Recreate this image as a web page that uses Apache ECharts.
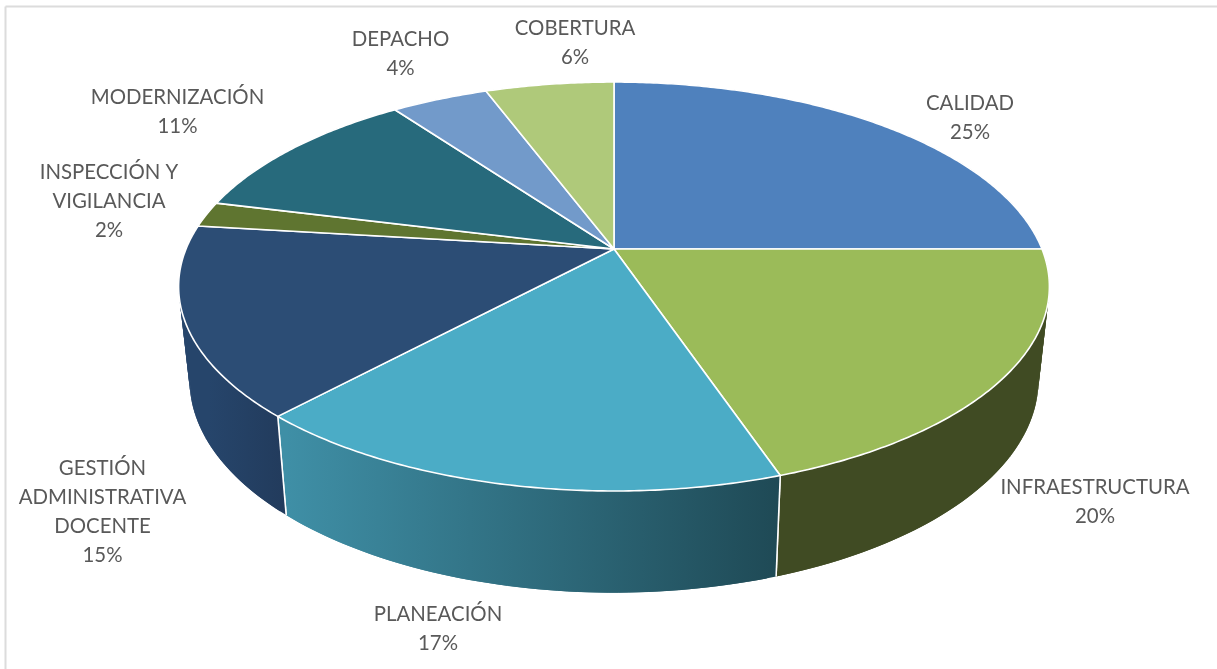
<!DOCTYPE html>
<html>
<head>
<meta charset="utf-8">
<title>Pie 3D</title>
<style>
  html, body { margin: 0; padding: 0; background: #fff; }
  #chart { width: 1217px; height: 669px; }
</style>
<script src="https://cdn.jsdelivr.net/npm/echarts@6/dist/echarts.min.js"></script>
</head>
<body>
<div id="chart"></div>
<script>
var categories = ['CALIDAD', 'INFRAESTRUCTURA', 'PLANEACIÓN', 'GESTIÓN\nADMINISTRATIVA\nDOCENTE',
  'INSPECCIÓN Y\nVIGILANCIA', 'MODERNIZACIÓN', 'DEPACHO', 'COBERTURA'];
// percentages, the labels round them
var values = [25, 19.8, 17.1, 15, 2, 11.1, 4.3, 5.7];

var topColors = ['#4f81bd', '#9bbb59', '#4bacc6', '#2c4d75', '#5f7530', '#276a7c', '#729aca', '#afc97a'];
// left and right colour of the side wall
var wallColors = [
  ['#3b6190', '#3b6190'], ['#404b23', '#404b23'], ['#3f8fa6', '#1f4a56'], ['#26456b', '#223b5c'],
  ['#475824', '#475824'], ['#1d505d', '#1d505d'], ['#567599', '#567599'], ['#84985c', '#84985c']
];
var labelCenters = [[970, 118], [1095, 502], [438, 629], [102.5, 512], [109, 201], [177.5, 112], [400.5, 54], [575, 43]];

var total = values.reduce(function (a, b) { return a + b; }, 0);

// perspective disc: apex on screen, half axes and tilt
var cx = 614, cy = 249, A = 428, B = 197.6, K = 0.1834;
// lower rim relative to the upper one
var depth = 92, scaleX = 0.975, scaleY = 1.04;

function upper(t) {
  var u = Math.sin(t), v = Math.cos(t), w = 1 + K * v;
  return [cx + A * u / w, cy - B * v / w];
}
function lower(t) {
  var p = upper(t);
  return [cx + scaleX * (p[0] - cx), cy + depth + scaleY * (p[1] - cy)];
}
function sliceAngles(i) {
  var before = values.slice(0, i).reduce(function (a, b) { return a + b; }, 0);
  return [before / total * Math.PI * 2, (before + values[i]) / total * Math.PI * 2];
}

function renderWall(params, api) {
  var i = params.dataIndex;
  var a = sliceAngles(i);
  var steps = Math.max(2, Math.ceil((a[1] - a[0]) / 0.02));
  var first = lower(a[0]), last = lower(a[1]);
  var fill = {
    type: 'linear', global: true,
    x: Math.min(first[0], last[0]), y: 0, x2: Math.max(first[0], last[0]), y2: 0,
    colorStops: [{ offset: 0, color: wallColors[i][0] }, { offset: 1, color: wallColors[i][1] }]
  };
  var children = [];
  for (var s = 0; s < steps; s++) {
    // each quad overlaps the next one so no seams show
    var t0 = a[0] + (a[1] - a[0]) * s / steps;
    var t1 = a[0] + (a[1] - a[0]) * Math.min(s + 2, steps) / steps;
    children.push({
      type: 'polygon',
      shape: { points: [upper(t0), upper(t1), lower(t1), lower(t0)] },
      style: { fill: fill }
    });
  }
  // white seam where two walls meet
  [a[0], a[1]].forEach(function (t) {
    var p = upper(t), q = lower(t);
    if (p[1] > cy + 120) {
      children.push({
        type: 'line',
        shape: { x1: p[0], y1: p[1], x2: q[0], y2: q[1] },
        style: { stroke: '#fff', lineWidth: 1.5 }
      });
    }
  });
  return { type: 'group', children: children };
}

function renderTop(params, api) {
  var i = params.dataIndex;
  var a = sliceAngles(i);
  var pts = [[cx, cy]];
  var steps = Math.ceil((a[1] - a[0]) / 0.01);
  for (var s = 0; s <= steps; s++) {
    pts.push(upper(a[0] + (a[1] - a[0]) * s / steps));
  }
  return {
    type: 'group',
    children: [{
      type: 'polygon',
      shape: { points: pts },
      style: { fill: topColors[i], stroke: '#fff', lineWidth: 1.6, lineJoin: 'round' }
    }, {
      type: 'text',
      z2: 10,
      style: {
        x: labelCenters[i][0],
        y: labelCenters[i][1],
        text: categories[i] + '\n' + Math.round(api.value(1) / total * 100) + '%',
        align: 'center',
        verticalAlign: 'middle',
        fontFamily: 'Lato',
        fontSize: 20.4,
        lineHeight: 29,
        fill: '#595959'
      }
    }]
  };
}

var seriesData = categories.map(function (name, i) { return [name, values[i]]; });

var chart = echarts.init(document.getElementById('chart'), null, { renderer: 'canvas' });
chart.setOption({
  animation: false,
  backgroundColor: '#fff',
  // frame of the original picture, only top and left show
  graphic: [
    { type: 'line', shape: { x1: 5.5, y1: 6.5, x2: 1217, y2: 6.5 }, style: { stroke: '#dcdcdc', lineWidth: 2 } },
    { type: 'line', shape: { x1: 5.5, y1: 6.5, x2: 5.5, y2: 669 }, style: { stroke: '#dcdcdc', lineWidth: 2 } }
  ],
  series: [
    { type: 'custom', coordinateSystem: 'none', silent: true, clip: false, z: 2, renderItem: renderWall, data: seriesData },
    { type: 'custom', coordinateSystem: 'none', silent: true, clip: false, z: 3, renderItem: renderTop, data: seriesData }
  ]
});
</script>
</body>
</html>
